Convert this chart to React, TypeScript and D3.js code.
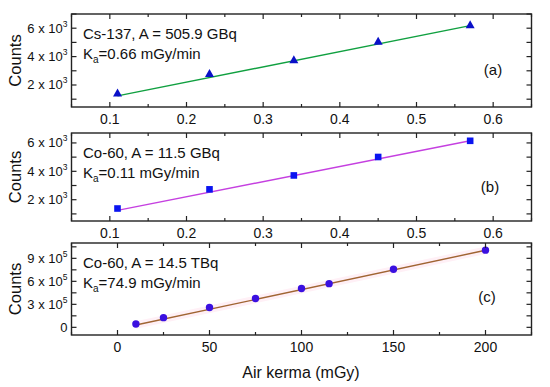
import React from "react";
import * as d3 from "d3";

// Panel (a): Cs-137
const doseA = [0.11, 0.23, 0.34, 0.45, 0.57];
const countsA = [1400, 2770, 3750, 5040, 6210];
const fitA_x = [0.11, 0.57];
const fitA_y = [1230, 6180];

// Panel (b): Co-60 11.5 GBq
const doseB = [0.11, 0.23, 0.34, 0.45, 0.57];
const countsB = [1380, 2730, 3710, 5010, 6150];
const fitB_x = [0.11, 0.57];
const fitB_y = [1250, 6150];

// Panel (c): Co-60 14.5 TBq
const doseC = [10, 25, 50, 75, 100, 115, 150, 200];
const countsC = [44000, 126000, 259000, 376000, 506000, 570000, 757000, 1007000];
const fitC_x = [10, 200];
const fitC_y = [30000, 1005000];
const bandC = 50000;

const xTicksAB = [0.1, 0.2, 0.3, 0.4, 0.5, 0.6];
const xTicksC = [0, 50, 100, 150, 200];
const yTicksAB = [2000, 4000, 6000];
const yLabelsAB = ["2 x 10", "4 x 10", "6 x 10"];
const yExpAB = "3";
const yTicksC = [0, 300000, 600000, 900000];
const yLabelsC = ["0", "3 x 10", "6 x 10", "9 x 10"];
const yExpC = "5";

const FONT = "'Liberation Sans', Arial, sans-serif";
const L = 71.5;
const R = 531.5;

type PanelProps = {
  top: number;
  bottom: number;
  xDomain: [number, number];
  yDomain: [number, number];
  xMajor: number[];
  xStep: number;
  yStep: number;
  yTicks: number[];
  yLabels: string[];
  yExp: string;
  line1: string;
  line2: string;
  letter: string;
  letterPos: [number, number];
  children: (x: d3.ScaleLinear<number, number>, y: d3.ScaleLinear<number, number>) => React.ReactNode;
};

function Panel(p: PanelProps) {
  const x = d3.scaleLinear().domain(p.xDomain).range([L, R]);
  const y = d3.scaleLinear().domain(p.yDomain).range([p.bottom, p.top]);
  const xMinor: number[] = [];
  const start = Math.ceil(p.xDomain[0] / p.xStep - 1e-9);
  const end = Math.floor(p.xDomain[1] / p.xStep + 1e-9);
  for (let i = start; i <= end; i++) xMinor.push(+(i * p.xStep).toFixed(6));
  const yAll: number[] = [];
  const ys = Math.ceil(p.yDomain[0] / p.yStep - 1e-9);
  const ye = Math.floor(p.yDomain[1] / p.yStep + 1e-9);
  for (let i = ys; i <= ye; i++) yAll.push(i * p.yStep);
  const isMajorX = (v: number) => p.xMajor.some((m) => Math.abs(m - v) < 1e-6);
  const tickColor = "#222";
  return (
    <g>
      {p.children(x, y)}
      {xMinor.map((v, i) => {
        const len = isMajorX(v) ? 5 : 3;
        return (
          <g key={"xt" + i}>
            <line x1={x(v)} x2={x(v)} y1={p.bottom} y2={p.bottom - len} stroke={tickColor} strokeWidth={1.2} />
            <line x1={x(v)} x2={x(v)} y1={p.top} y2={p.top + len} stroke={tickColor} strokeWidth={1.2} />
          </g>
        );
      })}
      {yAll.map((v, i) => (
        <g key={"yt" + i}>
          <line x1={L} x2={L + 5} y1={y(v)} y2={y(v)} stroke={tickColor} strokeWidth={1.2} />
          <line x1={R} x2={R - 5} y1={y(v)} y2={y(v)} stroke={tickColor} strokeWidth={1.2} />
        </g>
      ))}
      {p.xMajor.map((v, i) => (
        <text key={"xl" + i} x={x(v)} y={p.bottom + 17} textAnchor="middle" fontSize={14} fontFamily={FONT} fill="#111">
          {String(v)}
        </text>
      ))}
      {p.yTicks.map((v, i) => (
        <text key={"yl" + i} x={L - 4} y={y(v) + 4.5} textAnchor="end" fontSize={13} fontFamily={FONT} fill="#111">
          {p.yLabels[i]}
          {p.yLabels[i] !== "0" ? (
            <tspan fontSize={8.5} dy={-6}>
              {p.yExp}
            </tspan>
          ) : null}
        </text>
      ))}
      <rect x={L} y={p.top} width={R - L} height={p.bottom - p.top} fill="none" stroke="#222" strokeWidth={1.4} />
      <text
        transform={`translate(21,${(p.top + p.bottom) / 2}) rotate(-90)`}
        textAnchor="middle"
        fontSize={16.5}
        fontFamily={FONT}
        fill="#111"
      >
        Counts
      </text>
      <text x={83} y={p.top + 25} fontSize={15} fontFamily={FONT} fill="#111">
        {p.line1}
      </text>
      <text x={83} y={p.top + 45} fontSize={15} fontFamily={FONT} fill="#111">
        K
        <tspan fontSize={10} dy={4}>
          a
        </tspan>
        <tspan dy={-4}>{p.line2}</tspan>
      </text>
      <text x={p.letterPos[0]} y={p.letterPos[1] + 5} textAnchor="middle" fontSize={15} fontFamily={FONT} fill="#111">
        {p.letter}
      </text>
    </g>
  );
}

export default function App() {
  const lineGen = (x: d3.ScaleLinear<number, number>, y: d3.ScaleLinear<number, number>, xs: number[], vs: number[]) =>
    d3.line<number>().x((d) => x(d)).y((_, i) => y(vs[i]))(xs) || "";
  return (
    <svg width={550} height={387} style={{ position: "absolute", left: 0, top: 0, background: "#fff" }}>
      <rect width={550} height={387} fill="#fff" />
      <Panel
        top={14}
        bottom={107}
        xDomain={[0.05, 0.65]}
        yDomain={[450, 7000]}
        xMajor={xTicksAB}
        xStep={0.05}
        yStep={1000}
        yTicks={yTicksAB}
        yLabels={yLabelsAB}
        yExp={yExpAB}
        line1="Cs-137, A = 505.9 GBq"
        line2="=0.66 mGy/min"
        letter="(a)"
        letterPos={[493, 70]}
      >
        {(x, y) => (
          <g>
            <path d={lineGen(x, y, fitA_x, fitA_y)} stroke="#10a040" strokeWidth={1.4} fill="none" />
            {doseA.map((d, i) => {
              const cx = x(d);
              const cy = y(countsA[i]);
              return <path key={i} d={`M${cx},${cy - 5}L${cx + 4.5},${cy + 3}L${cx - 4.5},${cy + 3}Z`} fill="#0a10c8" />;
            })}
          </g>
        )}
      </Panel>
      <Panel
        top={133}
        bottom={221}
        xDomain={[0.05, 0.65]}
        yDomain={[500, 6700]}
        xMajor={xTicksAB}
        xStep={0.05}
        yStep={1000}
        yTicks={yTicksAB}
        yLabels={yLabelsAB}
        yExp={yExpAB}
        line1="Co-60, A = 11.5 GBq"
        line2="=0.11 mGy/min"
        letter="(b)"
        letterPos={[490, 187]}
      >
        {(x, y) => (
          <g>
            <path d={lineGen(x, y, fitB_x, fitB_y)} stroke="#c540e0" strokeWidth={1.4} fill="none" />
            {doseB.map((d, i) => (
              <rect key={i} x={x(d) - 3.3} y={y(countsB[i]) - 3.3} width={6.6} height={6.6} fill="#0a14f0" />
            ))}
          </g>
        )}
      </Panel>
      <Panel
        top={243}
        bottom={335}
        xDomain={[-25, 225]}
        yDomain={[-100000, 1100000]}
        xMajor={xTicksC}
        xStep={25}
        yStep={150000}
        yTicks={yTicksC}
        yLabels={yLabelsC}
        yExp={yExpC}
        line1="Co-60, A = 14.5 TBq"
        line2="=74.9 mGy/min"
        letter="(c)"
        letterPos={[487, 297]}
      >
        {(x, y) => {
          const area = d3
            .area<number>()
            .x((d) => x(d))
            .y0((_, i) => y(fitC_y[i] - bandC))
            .y1((_, i) => y(fitC_y[i] + bandC))(fitC_x) || "";
          return (
            <g>
              <path d={area} fill="#fff0f6" />
              <path d={lineGen(x, y, fitC_x, fitC_y)} stroke="#a06432" strokeWidth={1.4} fill="none" />
              {doseC.map((d, i) => (
                <circle key={i} cx={x(d)} cy={y(countsC[i])} r={3.7} fill="#3a10e0" />
              ))}
            </g>
          );
        }}
      </Panel>
      <text x={301} y={378} textAnchor="middle" fontSize={16} fontFamily={FONT} fill="#111">
        Air kerma (mGy)
      </text>
    </svg>
  );
}
